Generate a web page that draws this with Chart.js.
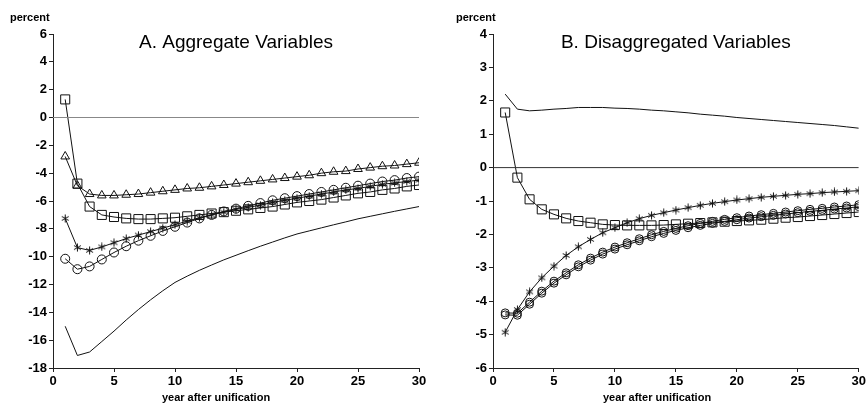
<!DOCTYPE html>
<html>
<head>
<meta charset="utf-8">
<script src="https://cdn.jsdelivr.net/npm/chart.js@4/dist/chart.umd.min.js"></script>
<style>
  body { margin: 0; background: #fff; }
  #wrap { display: flex; width: 868px; height: 404px; }
  canvas { display: block; }
</style>
</head>
<body>
<div id="wrap">
  <canvas id="chartA" width="434" height="404"></canvas>
  <canvas id="chartB" width="434" height="404"></canvas>
</div>
<script>
// years after unification
const years = [1, 2, 3, 4, 5, 6, 7, 8, 9, 10, 11, 12, 13, 14, 15, 16, 17, 18, 19, 20, 21, 22, 23, 24, 25, 26, 27, 28, 29, 30];
const zeroX = [0, 30];
const zeroY = [0, 0];

// Panel A: aggregate variables (percent)
const aggSolid = [-15.0, -17.1, -16.85, -16.1, -15.35, -14.55, -13.8, -13.1, -12.45, -11.85, -11.4, -10.98, -10.6, -10.23, -9.9, -9.57, -9.25, -8.95, -8.65, -8.37, -8.15, -7.93, -7.71, -7.5, -7.28, -7.1, -6.92, -6.74, -6.57, -6.4];
const aggSquare = [1.3, -4.75, -6.4, -7.0, -7.15, -7.25, -7.3, -7.3, -7.25, -7.2, -7.1, -7.0, -6.9, -6.8, -6.7, -6.6, -6.5, -6.4, -6.25, -6.1, -6.0, -5.9, -5.75, -5.6, -5.45, -5.35, -5.2, -5.1, -4.95, -4.85];
const aggTriangle = [-2.8, -4.9, -5.5, -5.6, -5.6, -5.55, -5.5, -5.4, -5.3, -5.2, -5.1, -5.05, -4.95, -4.85, -4.75, -4.65, -4.55, -4.45, -4.35, -4.25, -4.15, -4.0, -3.9, -3.85, -3.7, -3.6, -3.5, -3.45, -3.35, -3.25];
const aggStar = [-7.25, -9.35, -9.55, -9.3, -9.0, -8.7, -8.45, -8.2, -7.95, -7.7, -7.45, -7.2, -7.0, -6.8, -6.6, -6.45, -6.3, -6.1, -5.95, -5.8, -5.65, -5.5, -5.35, -5.2, -5.1, -4.95, -4.8, -4.7, -4.6, -4.5];
const aggCircle = [-10.15, -10.9, -10.7, -10.2, -9.7, -9.25, -8.85, -8.5, -8.15, -7.85, -7.55, -7.25, -7.0, -6.75, -6.55, -6.35, -6.15, -5.95, -5.8, -5.65, -5.5, -5.35, -5.2, -5.05, -4.9, -4.75, -4.6, -4.5, -4.35, -4.25];
const aggTicks = [-18, -16, -14, -12, -10, -8, -6, -4, -2, 0, 2, 4, 6];

// Panel B: disaggregated variables (percent)
const disSolid = [2.2, 1.75, 1.7, 1.72, 1.75, 1.77, 1.8, 1.8, 1.8, 1.78, 1.77, 1.75, 1.72, 1.7, 1.67, 1.64, 1.6, 1.57, 1.54, 1.5, 1.47, 1.44, 1.41, 1.38, 1.35, 1.32, 1.29, 1.26, 1.22, 1.18];
const disSquare = [1.65, -0.3, -0.95, -1.25, -1.4, -1.52, -1.6, -1.65, -1.7, -1.72, -1.73, -1.73, -1.73, -1.72, -1.7, -1.68, -1.66, -1.64, -1.62, -1.6, -1.58, -1.56, -1.53, -1.5, -1.48, -1.45, -1.42, -1.39, -1.36, -1.33];
const disStar = [-4.93, -4.25, -3.72, -3.3, -2.95, -2.63, -2.37, -2.15, -1.95, -1.8, -1.65, -1.53, -1.43, -1.35, -1.27, -1.2, -1.13, -1.07, -1.02, -0.97, -0.93, -0.89, -0.86, -0.83, -0.8, -0.78, -0.75, -0.73, -0.71, -0.69];
const disCircle = [-4.35, -4.36, -4.03, -3.7, -3.4, -3.15, -2.91, -2.71, -2.53, -2.38, -2.25, -2.13, -2.01, -1.91, -1.82, -1.74, -1.67, -1.61, -1.55, -1.5, -1.45, -1.41, -1.37, -1.33, -1.29, -1.25, -1.22, -1.18, -1.15, -1.11];
const disCircle2 = [-4.41, -4.42, -4.09, -3.76, -3.46, -3.21, -2.97, -2.77, -2.59, -2.44, -2.31, -2.19, -2.07, -1.97, -1.88, -1.8, -1.73, -1.67, -1.61, -1.56, -1.51, -1.47, -1.43, -1.39, -1.35, -1.31, -1.28, -1.24, -1.21, -1.17];
const disTicks = [-6, -5, -4, -3, -2, -1, 0, 1, 2, 3, 4];

const FONT = "'Liberation Sans', Arial, sans-serif";
const INK = '#111';

// six-armed asterisk marker like the scanned figure
function makeAsterisk(size) {
    const c = document.createElement('canvas');
    c.width = size; c.height = size;
    const g = c.getContext('2d');
    const m = size / 2, r = size / 2 - 0.5;
    g.strokeStyle = INK;
    g.lineWidth = 1;
    g.beginPath();
    for (let k = 0; k < 3; k++) {
        const a = Math.PI / 2 + k * Math.PI / 3;
        g.moveTo(m + r * Math.cos(a), m + r * Math.sin(a));
        g.lineTo(m - r * Math.cos(a), m - r * Math.sin(a));
    }
    g.stroke();
    return c;
}
const asterisk = makeAsterisk(9);

function pts(ys) {
    return ys.map((v, i) => ({ x: years[i], y: v }));
}

function lineSet(ys, style, radius, color) {
    return {
        data: pts(ys),
        borderColor: color || INK,
        borderWidth: 1,
        pointStyle: style || false,
        pointRadius: style ? radius : 0,
        pointBorderColor: INK,
        pointBorderWidth: 1,
        pointBackgroundColor: 'rgba(255,255,255,0)',
        tension: 0
    };
}

// draws the panel title, "percent" and the x-axis caption
const labelsPlugin = {
    id: 'panelLabels',
    afterDraw(chart, args, opts) {
        const { ctx, chartArea } = chart;
        ctx.save();
        ctx.fillStyle = '#000';
        ctx.textBaseline = 'middle';
        ctx.textAlign = 'center';
        ctx.font = '19px ' + FONT;
        ctx.fillText(opts.title, (chartArea.left + chartArea.right) / 2, 43);
        ctx.font = 'bold 11px ' + FONT;
        ctx.textAlign = 'left';
        ctx.fillText('percent', opts.percentX, 18);
        ctx.textAlign = 'center';
        ctx.fillText('year after unification', opts.captionX, 398);
        ctx.restore();
    }
};

function makeChart(id, datasets, yMin, yMax, yTicks, yWidth, padRight, title, percentX, captionX) {
    return new Chart(document.getElementById(id), {
        type: 'line',
        data: { datasets: datasets },
        options: {
            responsive: false,
            animation: false,
            layout: { padding: { top: 34, right: padRight, left: 0, bottom: 0 } },
            plugins: {
                legend: { display: false },
                tooltip: { enabled: false },
                panelLabels: { title: title, percentX: percentX, captionX: captionX }
            },
            scales: {
                x: {
                    type: 'linear',
                    min: 0, max: 30,
                    afterFit: (s) => { s.height = 36; },
                    afterBuildTicks: (s) => { s.ticks = [0, 5, 10, 15, 20, 25, 30].map(v => ({ value: v })); },
                    grid: { drawOnChartArea: false, tickLength: 4, color: '#222' },
                    border: { color: '#222', width: 1 },
                    ticks: { color: '#000', padding: 2, font: { family: FONT, size: 13, weight: 'bold' }, maxRotation: 0 }
                },
                y: {
                    type: 'linear',
                    min: yMin, max: yMax,
                    afterFit: (s) => { s.width = yWidth; },
                    afterBuildTicks: (s) => { s.ticks = yTicks.map(v => ({ value: v })); },
                    grid: { drawOnChartArea: false, tickLength: 4, color: '#222' },
                    border: { color: '#222', width: 1 },
                    ticks: { color: '#000', padding: 2, font: { family: FONT, size: 13, weight: 'bold' } }
                }
            }
        },
        plugins: [labelsPlugin]
    });
}

const zeroA = { data: zeroX.map((x, i) => ({ x: x, y: zeroY[i] })), borderColor: '#888', borderWidth: 1, pointRadius: 0 };
const zeroB = { data: zeroX.map((x, i) => ({ x: x, y: zeroY[i] })), borderColor: '#333', borderWidth: 1, pointRadius: 0 };

makeChart('chartA', [
    zeroA,
    lineSet(aggSolid),
    lineSet(aggTriangle, 'triangle', 5),
    lineSet(aggCircle, 'circle', 4.5),
    lineSet(aggStar, asterisk, 5),
    lineSet(aggSquare, 'rect', 6.4)
], -18, 6, aggTicks, 53, 15, 'A. Aggregate Variables', 10, 216);

makeChart('chartB', [
    zeroB,
    lineSet(disSolid),
    lineSet(disSquare, 'rect', 6.4),
    lineSet(disCircle2, 'circle', 4),
    lineSet(disCircle, 'circle', 4),
    lineSet(disStar, asterisk, 5)
], -6, 4, disTicks, 59, 8, 'B. Disaggregated Variables', 22, 223);
</script>
</body>
</html>
